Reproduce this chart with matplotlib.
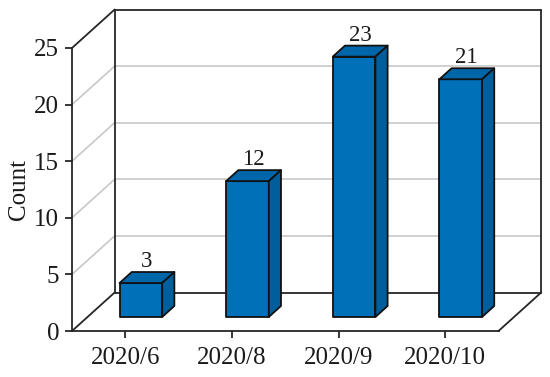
import matplotlib
matplotlib.use('Agg')
import matplotlib.pyplot as plt
from matplotlib.patches import Polygon

categories = ['2020/6', '2020/8', '2020/9', '2020/10']
counts = [3, 12, 23, 21]
y_ticks = [0, 5, 10, 15, 20, 25]

plt.rcParams['font.family'] = ['Liberation Serif', 'DejaVu Serif']

# oblique projection: full depth of the box in data units
depth_x = 0.4
depth_y = 3.4
bar_w = 0.4
bar_start = 0.364
bar_end = 0.65
front_col = '#0070B9'
top_col = '#0066AA'
side_col = '#005E9C'
dark = '#262626'


def proj(x, y, d):
    return (x + depth_x * d, y + depth_y * d)


def line(ax, p, q, col=dark, lw=1.3, z=1):
    ax.plot([p[0], q[0]], [p[1], q[1]], color=col, lw=lw, clip_on=False,
            zorder=z, solid_capstyle='round')


fig = plt.figure(figsize=(5.5, 3.77), dpi=100)
ax = fig.add_axes([72 / 550, 1 - 331 / 377, 426.5 / 550, 283 / 377])
ax.set_xlim(-0.5, 3.5)
ax.set_ylim(0, 25)
ax.patch.set_alpha(0)

# walls
x0, x1 = -0.5, 3.5
for v in y_ticks[1:-1]:
    line(ax, proj(x0, v, 0), proj(x0, v, 1), col='#c8c8c8', lw=1.2)
    line(ax, proj(x0, v, 1), proj(x1, v, 1), col='#c8c8c8', lw=1.2)
line(ax, proj(x0, 0, 0), proj(x0, 0, 1))
line(ax, proj(x1, 0, 0), proj(x1, 0, 1))
line(ax, proj(x0, 0, 1), proj(x1, 0, 1))
line(ax, proj(x0, 25, 0), proj(x0, 25, 1))
line(ax, proj(x0, 25, 1), proj(x1, 25, 1))
line(ax, proj(x0, 0, 1), proj(x0, 25, 1))
line(ax, proj(x1, 0, 1), proj(x1, 25, 1))

# bars
for i, v in enumerate(counts):
    l = i - bar_w / 2
    r = i + bar_w / 2
    faces = [
        ([proj(l, 0, bar_start), proj(r, 0, bar_start), proj(r, v, bar_start), proj(l, v, bar_start)], front_col),
        ([proj(l, v, bar_start), proj(r, v, bar_start), proj(r, v, bar_end), proj(l, v, bar_end)], top_col),
        ([proj(r, 0, bar_start), proj(r, 0, bar_end), proj(r, v, bar_end), proj(r, v, bar_start)], side_col),
    ]
    for pts, c in faces:
        ax.add_patch(Polygon(pts, closed=True, facecolor=c, edgecolor='#111111',
                             lw=1.3, joinstyle='round', clip_on=False, zorder=3))
    tx, ty = proj(i, v, bar_end)
    ax.annotate(str(v), (tx - depth_x * (bar_end - bar_start) / 2, ty), xytext=(0, 0),
                textcoords='offset points', ha='center', va='bottom', fontsize=16.5,
                color='#1a1a1a', zorder=4, annotation_clip=False)

for s in ['top', 'right']:
    ax.spines[s].set_visible(False)
for s in ['left', 'bottom']:
    ax.spines[s].set_color(dark)
    ax.spines[s].set_linewidth(1.3)
ax.set_xticks(range(len(categories)))
ax.set_xticklabels(categories, fontsize=18, color='#1a1a1a')
ax.set_yticks(y_ticks)
ax.tick_params(axis='y', labelsize=18, labelcolor='#1a1a1a', length=4.8, width=1.3, color=dark, pad=4.5)
ax.tick_params(axis='x', length=4.8, width=1.3, color=dark, pad=7)
ax.set_ylabel('Count', fontsize=18, color='#1a1a1a', labelpad=3)

fig.savefig('out.png', dpi=100)
